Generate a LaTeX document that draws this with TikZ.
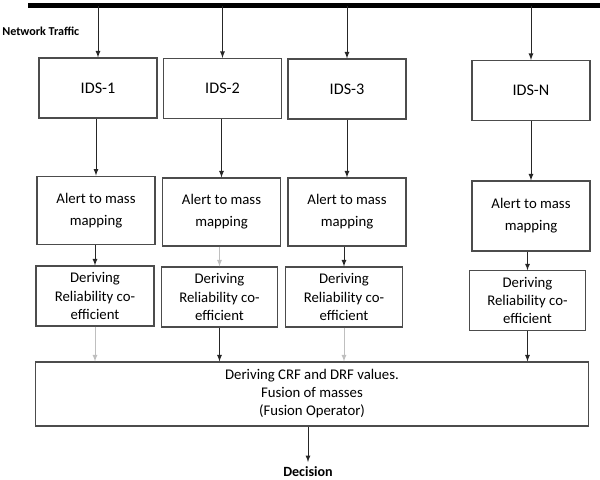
\documentclass[tikz,border=0pt]{standalone}
\usepackage{fontspec}
\setmainfont{Carlito}
\usetikzlibrary{arrows}
\tikzset{
	box/.style={
			draw=black!70, line width=0.8pt, align=center, inner sep=2pt,
			minimum width=2.95cm, minimum height=1.5cm,
			font=\fontsize{10.5}{13}\selectfont
		},
	flow/.style={->, >=latex, black!85, line width=0.6pt},
	faint/.style={->, >=latex, black!25, line width=0.6pt},
	bus/.style={line width=3.6pt, black}
}

\begin{document}
\begin{tikzpicture}[x=0.025cm, y=-0.025cm]
				\useasboundingbox (0,0) rectangle (600,480);
				\coordinate (busl) at (28,5.5);
				\coordinate (busr) at (600,5.5);
				\draw [bus] (busl) -- (busr);
				\node [anchor=west, inner sep=0pt, font=\bfseries\fontsize{8.6}{10}\selectfont] (traffic) at (2,31) {Network Traffic};

				\node [box, font=\fontsize{11.5}{13}\selectfont] (ids1) at (98,88) {IDS-1};
				\node [box, font=\fontsize{11.5}{13}\selectfont] (ids2) at (222.5,88.5) {IDS-2};
				\node [box, font=\fontsize{11.5}{13}\selectfont] (ids3) at (347,89) {IDS-3};
				\node [box, font=\fontsize{11.5}{13}\selectfont] (idsn) at (531,90.5) {IDS-N};

				\node [box, minimum height=1.72cm, font=\fontsize{10.5}{15.5}\selectfont] (map1) at (96,210.5) {Alert to mass\\mapping};
				\node [box, minimum height=1.7cm, font=\fontsize{10.5}{15.5}\selectfont] (map2) at (221.5,212) {Alert to mass\\mapping};
				\node [box, minimum height=1.7cm, font=\fontsize{10.5}{15.5}\selectfont] (map3) at (347,212) {Alert to mass\\mapping};
				\node [box, minimum height=1.75cm, font=\fontsize{10.5}{15.5}\selectfont] (mapn) at (531,216) {Alert to mass\\mapping};

				\node [box] (rel1) at (95,296) {Deriving\\Reliability co-\\efficient};
				\node [box, minimum width=2.92cm] (rel2) at (219.5,297) {Deriving\\Reliability co-\\efficient};
				\node [box, minimum width=2.92cm] (rel3) at (344,297) {Deriving\\Reliability co-\\efficient};
				\node [box, minimum width=2.92cm, minimum height=1.48cm] (reln) at (527.5,300.5) {Deriving\\Reliability co-\\efficient};

				\node [box, minimum width=13.8cm, minimum height=1.6cm, font=\fontsize{10.5}{12.8}\selectfont] (fusion) at (312,394) {Deriving CRF and DRF values.\\Fusion of masses\\(Fusion Operator)};
				\node [font=\bfseries\fontsize{10}{12}\selectfont] (decision) at (308,472) {Decision};

				\draw [flow] (ids1 |- busl) to (ids1.north);
				\draw [flow] (ids2 |- busl) to (ids2.north);
				\draw [flow] (ids3 |- busl) to (ids3.north);
				\draw [flow] (idsn |- busl) to (idsn.north);

				\draw [flow] (ids1.south -| map1) to (map1.north);
				\draw [flow] (ids2.south -| map2) to (map2.north);
				\draw [flow] (ids3.south -| map3) to (map3.north);
				\draw [flow] (idsn.south -| mapn) to (mapn.north);

				\draw [flow] (map1.south -| rel1) to (rel1.north);
				\draw [faint] (map2.south -| rel2) to (rel2.north);
				\draw [flow] (map3.south -| rel3) to (rel3.north);
				\draw [flow] (mapn.south -| reln) to (reln.north);

				\draw [faint] (rel1.south) to (rel1.south |- fusion.north);
				\draw [flow] (rel2.south) to (rel2.south |- fusion.north);
				\draw [faint] (rel3.south) to (rel3.south |- fusion.north);
				\draw [flow] (reln.south) to (reln.south |- fusion.north);

				\draw [flow] (fusion.south -| decision) to (decision.north);
			\end{tikzpicture}
\end{document}
